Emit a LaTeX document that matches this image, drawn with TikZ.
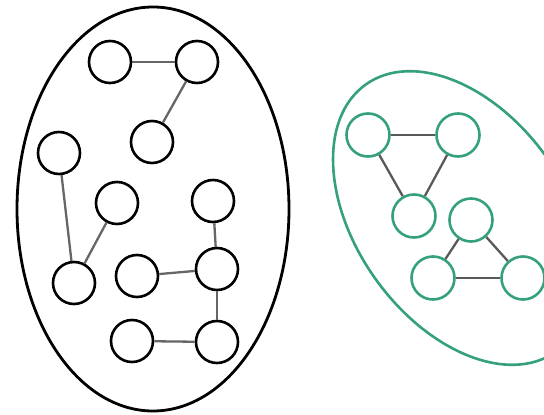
\documentclass[tikz,border=0pt]{standalone}
\begin{document}
\begin{tikzpicture}[x=1pt,y=-1pt,
  vtx/.style={circle,draw=black,line width=2.6pt,minimum size=42pt,inner sep=0pt},
  gvtx/.style={circle,draw=tealg,line width=2.6pt,minimum size=43pt,inner sep=0pt},
  edge/.style={draw=black!60,line width=2.3pt},
  gedge/.style={draw=black!65,line width=2.3pt}]
\definecolor{tealg}{RGB}{52,160,126}
\useasboundingbox (0,0) rectangle (544,415);
\clip (0,0) rectangle (544,415);
\draw[line width=2.8pt] (153,209) ellipse [x radius=136, y radius=202];
\draw[tealg,line width=2.6pt] (461,218) ellipse [x radius=164, y radius=105, rotate=-54.5];
\node[vtx] (n1) at (110,62) {};
\node[vtx] (n2) at (197,62) {};
\node[vtx] (n3) at (152,142) {};
\node[vtx] (n4) at (59,153) {};
\node[vtx] (n5) at (117,203) {};
\node[vtx] (n6) at (213,201) {};
\node[vtx] (n7) at (74,283) {};
\node[vtx] (n8) at (137,276) {};
\node[vtx] (n9) at (217,269) {};
\node[vtx] (n10) at (132,341) {};
\node[vtx] (n11) at (217,342) {};
\draw[edge] (n1) -- (n2);
\draw[edge] (n2) -- (n3);
\draw[edge] (n4) -- (n7);
\draw[edge] (n5) -- (n7);
\draw[edge] (n8) -- (n9);
\draw[edge] (n6) -- (n9);
\draw[edge] (n9) -- (n11);
\draw[edge] (n10) -- (n11);
\node[gvtx] (a) at (368,135) {};
\node[gvtx] (b) at (458,135) {};
\node[gvtx] (c) at (414,216) {};
\node[gvtx] (d) at (471,220) {};
\node[gvtx] (e) at (433,278) {};
\node[gvtx] (f) at (523,278) {};
\draw[gedge] (a) -- (b);
\draw[gedge] (a) -- (c);
\draw[gedge] (b) -- (c);
\draw[gedge] (d) -- (e);
\draw[gedge] (d) -- (f);
\draw[gedge] (e) -- (f);
\end{tikzpicture}
\end{document}
